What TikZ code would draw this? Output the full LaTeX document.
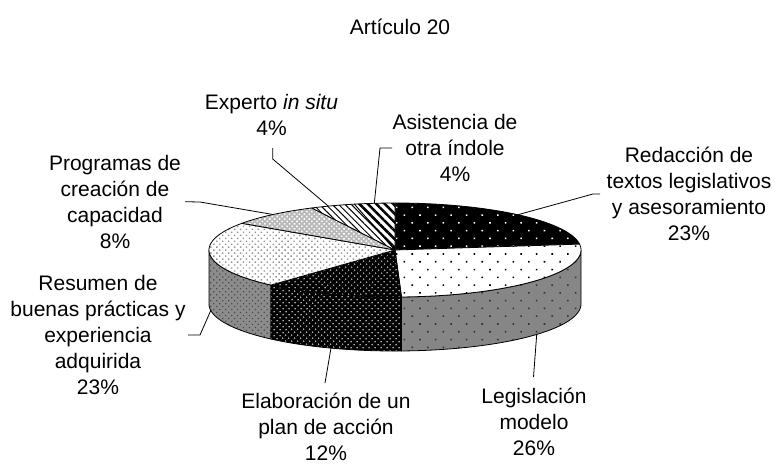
\documentclass[tikz,border=0pt]{standalone}
\usepackage{fontspec}
\setmainfont{Liberation Sans}
\usetikzlibrary{patterns.meta}
\def\cx{395}\def\cy{250}\def\rx{186}\def\ry{47}\def\dep{54}
\newcommand\mytop[3]{\path[#1] (\cx,\cy) -- plot[domain=#2:#3,samples=80,variable=\t] ({\cx+\rx*cos(\t)},{\cy-\ry*sin(\t)}) -- cycle;}
\newcommand\myside[3]{\path[#1] plot[domain=#2:#3,samples=80,variable=\t] ({\cx+\rx*cos(\t)},{\cy-\ry*sin(\t)}) -- plot[domain=#3:#2,samples=80,variable=\t] ({\cx+\rx*cos(\t)},{\cy+\dep-\ry*sin(\t)}) -- cycle;}
\begin{document}
\begin{tikzpicture}[x=1pt,y=-1pt,
  lbl/.style={align=center,font=\fontsize{21}{26}\selectfont,inner sep=0pt},
  leader/.style={draw=black,line width=0.8pt},
  edge/.style={draw=black,line width=0.8pt,line join=round},
  redtop/.style={edge,preaction={fill=black},pattern={Dots[distance=11pt,angle=45,radius=1.1pt]},pattern color=white},
  legtop/.style={edge,preaction={fill=white},pattern={Dots[distance=11pt,angle=45,radius=1.1pt]},pattern color=black},
  legside/.style={edge,preaction={fill=gray!95},pattern={Dots[distance=11pt,angle=45,radius=1.1pt]},pattern color=black!80},
  elatop/.style={edge,preaction={fill=black},pattern={Dots[distance=4pt,angle=45,radius=0.9pt]},pattern color=gray!60},
  elaside/.style={edge,preaction={fill=black},pattern={Dots[distance=4pt,angle=45,radius=0.9pt]},pattern color=gray!50},
  restop/.style={edge,preaction={fill=white},pattern={Dots[distance=4.2pt,angle=45,radius=1pt]},pattern color=gray!85},
  resside/.style={edge,preaction={fill=gray!90},pattern={Dots[distance=4.2pt,angle=45,radius=0.9pt]},pattern color=black!70},
  progtop/.style={edge,preaction={fill=gray!55},pattern={Dots[distance=3.5pt,angle=45,radius=1.1pt]},pattern color=white},
  exptop/.style={edge,preaction={fill=white},pattern={Lines[distance=4.5pt,angle=-45,line width=1pt]},pattern color=black},
  asitop/.style={edge,preaction={fill=white},pattern={Lines[distance=6pt,angle=-45,line width=2.6pt]},pattern color=black}
]
\useasboundingbox (0,0) rectangle (776,464);
% side faces
\myside{resside}{-131.8}{-180}
\myside{elaside}{-88}{-131.8}
\myside{legside}{0}{-88}
% top faces
\mytop{redtop}{90}{7.2}
\mytop{legtop}{7.2}{-88}
\mytop{elatop}{-88}{-131.8}
\mytop{restop}{-131.8}{-214.6}
\mytop{progtop}{-214.6}{-243.4}
\mytop{exptop}{-243.4}{-257.4}
\mytop{asitop}{-257.4}{-270}
% labels
\node[lbl] (title) at (400,27) {Artículo 20};
\node[lbl] (lExp) at (271.5,115) {Experto \textit{in situ}\\4\%};
\node[lbl] (lAsi) at (455,148) {Asistencia de\\otra índole\\4\%};
\node[lbl] (lRed) at (689,194) {Redacción de\\textos legislativos\\y asesoramiento\\23\%};
\node[lbl] (lProg) at (115,202) {Programas de\\creación de\\capacidad\\8\%};
\node[lbl] (lRes) at (98,335) {Resumen de\\buenas prácticas y\\experiencia\\adquirida\\23\%};
\node[lbl] (lEla) at (326,427) {Elaboración de un\\plan de acción\\12\%};
\node[lbl] (lLeg) at (534,422) {Legislación\\modelo\\26\%};
% leader points
\coordinate (pExp) at (328.3,206.1); \coordinate (kExp) at (272.7,159); \coordinate (eExp) at (272.7,148);
\coordinate (pAsi) at (374.3,203.3); \coordinate (kAsi) at (380,148); \coordinate (eAsi) at (392,148);
\coordinate (pRed) at (518,214.7); \coordinate (kRed) at (593,194); \coordinate (eRed) at (600,194);
\coordinate (pProg) at (273,214.5); \coordinate (kProg) at (200,202); \coordinate (eProg) at (185,201.7);
\coordinate (pRes) at (211,310); \coordinate (kRes) at (200,335); \coordinate (eRes) at (188,335);
\coordinate (pEla) at (331,348); \coordinate (eEla) at (325,383);
\coordinate (pLeg) at (536.7,334.5); \coordinate (eLeg) at (533.5,377);
\draw[leader] (eExp) -- (kExp) -- (pExp);
\draw[leader] (eAsi) -- (kAsi) -- (pAsi);
\draw[leader] (eRed) -- (kRed) -- (pRed);
\draw[leader] (eProg) -- (kProg) -- (pProg);
\draw[leader] (eRes) -- (kRes) -- (pRes);
\draw[leader] (eEla) -- (pEla);
\draw[leader] (eLeg) -- (pLeg);
\end{tikzpicture}
\end{document}
